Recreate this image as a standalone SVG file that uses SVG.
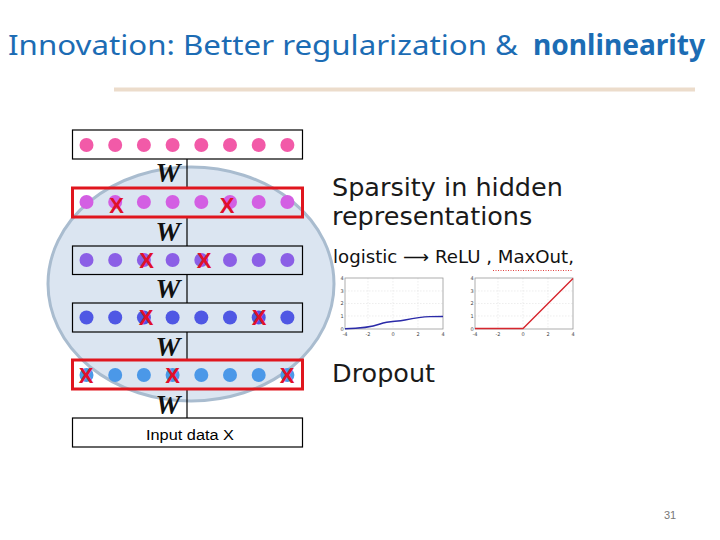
<svg xmlns="http://www.w3.org/2000/svg" width="720" height="540" viewBox="0 0 720 540">
<defs>
<style>
.box{fill:none;stroke:#000;stroke-width:1.2}
.rbox{fill:none;stroke:#e0161e;stroke-width:3}
.link{stroke:#000;stroke-width:1.2}
.w{font-family:"Liberation Serif",serif;font-style:italic;font-weight:bold;font-size:28px;fill:#111;text-anchor:middle}
.x{font-family:"Liberation Sans",sans-serif;font-weight:bold;font-size:22px;fill:#e0102a;text-anchor:middle}
.d1{fill:#f25aa8}.d2{fill:#d35fe3}.d3{fill:#8b5fe6}.d4{fill:#4f57e4}.d5{fill:#4b98e8}
.big{font-family:"DejaVu Sans",sans-serif;font-size:25.5px;fill:#1a1a1a}
.tick{font-family:"DejaVu Sans",sans-serif;font-size:5px;fill:#444;text-anchor:middle}
.grid{stroke:#e2e2e2;stroke-width:0.6;stroke-dasharray:1.5 1.5}
.frame{fill:none;stroke:#999;stroke-width:0.8}
</style>
</defs>
<rect width="720" height="540" fill="#fff"/>
<text x="8" y="55" font-family="'Noto Sans','Open Sans',sans-serif" font-size="28" fill="#1c6cb4" textLength="510" lengthAdjust="spacingAndGlyphs">Innovation: Better regularization &amp;</text>
<text x="533" y="55" font-family="'Noto Sans','Open Sans',sans-serif" font-size="28" font-weight="bold" fill="#1c6cb4" textLength="172" lengthAdjust="spacingAndGlyphs">nonlinearity</text>
<line x1="114" y1="89.5" x2="695" y2="89.5" stroke="#ecdccb" stroke-width="4"/>

<ellipse id="bubble" cx="191" cy="284" rx="143" ry="117" fill="#dbe5f1" stroke="#a9bccf" stroke-width="3"/>

<g id="connectors">
<line class="link" x1="187" y1="159" x2="187" y2="188"/>
<line class="link" x1="187" y1="217" x2="187" y2="246"/>
<line class="link" x1="187" y1="274" x2="187" y2="303"/>
<line class="link" x1="187" y1="332" x2="187" y2="359"/>
<line class="link" x1="187" y1="389" x2="187" y2="418"/>
<text class="w" x="168" y="182">W</text>
<text class="w" x="168" y="241">W</text>
<text class="w" x="168" y="298">W</text>
<text class="w" x="168" y="356">W</text>
<text class="w" x="168" y="414">W</text>
</g>

<g id="layer1">
<rect x="72.5" y="130" width="230" height="29" fill="#fff" stroke="#000" stroke-width="1.2"/>
<g class="d1">
<circle cx="86.5" cy="145" r="7"/><circle cx="115.2" cy="145" r="7"/><circle cx="143.9" cy="145" r="7"/><circle cx="172.6" cy="145" r="7"/><circle cx="201.3" cy="145" r="7"/><circle cx="230" cy="145" r="7"/><circle cx="258.7" cy="145" r="7"/><circle cx="287.4" cy="145" r="7"/>
</g>
</g>

<g id="layer2">
<rect class="rbox" x="72.5" y="188" width="230" height="29"/>
<g class="d2">
<circle cx="86.5" cy="202" r="7"/><circle cx="115.2" cy="202" r="7"/><circle cx="143.9" cy="202" r="7"/><circle cx="172.6" cy="202" r="7"/><circle cx="201.3" cy="202" r="7"/><circle cx="230" cy="202" r="7"/><circle cx="258.7" cy="202" r="7"/><circle cx="287.4" cy="202" r="7"/>
</g>
<text class="x" x="116.5" y="213">X</text>
<text class="x" x="227" y="213">X</text>
</g>

<g id="layer3">
<rect class="box" x="72.5" y="246" width="230" height="28.5"/>
<g class="d3">
<circle cx="86.5" cy="260" r="7"/><circle cx="115.2" cy="260" r="7"/><circle cx="143.9" cy="260" r="7"/><circle cx="172.6" cy="260" r="7"/><circle cx="201.3" cy="260" r="7"/><circle cx="230" cy="260" r="7"/><circle cx="258.7" cy="260" r="7"/><circle cx="287.4" cy="260" r="7"/>
</g>
<text class="x" x="146.5" y="268">X</text>
<text class="x" x="204" y="268">X</text>
</g>

<g id="layer4">
<rect class="box" x="72.5" y="303" width="230" height="29"/>
<g class="d4">
<circle cx="86.5" cy="317.5" r="7"/><circle cx="115.2" cy="317.5" r="7"/><circle cx="143.9" cy="317.5" r="7"/><circle cx="172.6" cy="317.5" r="7"/><circle cx="201.3" cy="317.5" r="7"/><circle cx="230" cy="317.5" r="7"/><circle cx="258.7" cy="317.5" r="7"/><circle cx="287.4" cy="317.5" r="7"/>
</g>
<text class="x" x="146" y="325">X</text>
<text class="x" x="259" y="325">X</text>
</g>

<g id="layer5">
<rect class="rbox" x="72.5" y="360" width="230" height="29"/>
<g class="d5">
<circle cx="86.5" cy="375" r="7"/><circle cx="115.2" cy="375" r="7"/><circle cx="143.9" cy="375" r="7"/><circle cx="172.6" cy="375" r="7"/><circle cx="201.3" cy="375" r="7"/><circle cx="230" cy="375" r="7"/><circle cx="258.7" cy="375" r="7"/><circle cx="287.4" cy="375" r="7"/>
</g>
<text class="x" x="86" y="383">X</text>
<text class="x" x="172.6" y="383">X</text>
<text class="x" x="287" y="383">X</text>
</g>

<g id="input">
<rect x="72.5" y="418" width="230" height="29" fill="#fff" stroke="#000" stroke-width="1.2"/>
<text x="190" y="440" font-family="'Liberation Sans',sans-serif" font-size="14" fill="#000" text-anchor="middle" textLength="88" lengthAdjust="spacingAndGlyphs">Input data X</text>
</g>

<g id="text-right">
<text class="big" x="332" y="196">Sparsity in hidden</text>
<text class="big" x="332" y="225">representations</text>
<text x="333" y="263" font-family="'DejaVu Sans',sans-serif" font-size="17.5" fill="#111" textLength="241" lengthAdjust="spacingAndGlyphs">logistic ⟶ ReLU , MaxOut,</text>
<line x1="493" y1="270.5" x2="573" y2="270.5" stroke="#e04040" stroke-width="1" stroke-dasharray="1 1.5"/>
<text class="big" x="332" y="382">Dropout</text>
</g>

<g id="plot-logistic">
<line class="grid" x1="368" y1="278" x2="368" y2="329"/><line class="grid" x1="393" y1="278" x2="393" y2="329"/><line class="grid" x1="418" y1="278" x2="418" y2="329"/>
<line class="grid" x1="345" y1="291" x2="443" y2="291"/><line class="grid" x1="345" y1="303.5" x2="443" y2="303.5"/><line class="grid" x1="345" y1="316" x2="443" y2="316"/>
<rect class="frame" x="345" y="278" width="98" height="51"/>
<path d="M345,328.8 C360,328.5 370,327.5 380,324 C390,320.5 396,322 405,320 C415,318 420,317 430,316.6 L443,316.5" fill="none" stroke="#2a2aa8" stroke-width="1.4"/>
<text class="tick" x="342" y="280">4</text><text class="tick" x="342" y="293">3</text><text class="tick" x="342" y="305">2</text><text class="tick" x="342" y="318">1</text><text class="tick" x="342" y="331">0</text>
<text class="tick" x="345" y="335.5">-4</text><text class="tick" x="368" y="335.5">-2</text><text class="tick" x="393" y="335.5">0</text><text class="tick" x="418" y="335.5">2</text><text class="tick" x="443" y="335.5">4</text>
</g>

<g id="plot-relu">
<line class="grid" x1="498" y1="278" x2="498" y2="329"/><line class="grid" x1="523" y1="278" x2="523" y2="329"/><line class="grid" x1="548" y1="278" x2="548" y2="329"/>
<line class="grid" x1="475" y1="291" x2="573" y2="291"/><line class="grid" x1="475" y1="303.5" x2="573" y2="303.5"/><line class="grid" x1="475" y1="316" x2="573" y2="316"/>
<rect class="frame" x="475" y="278" width="98" height="51"/>
<polyline points="475,328.5 523,328.5 573,278.5" fill="none" stroke="#d6262e" stroke-width="1.4"/>
<text class="tick" x="472" y="280">4</text><text class="tick" x="472" y="293">3</text><text class="tick" x="472" y="305">2</text><text class="tick" x="472" y="318">1</text><text class="tick" x="472" y="331">0</text>
<text class="tick" x="475" y="335.5">-4</text><text class="tick" x="498" y="335.5">-2</text><text class="tick" x="523" y="335.5">0</text><text class="tick" x="548" y="335.5">2</text><text class="tick" x="573" y="335.5">4</text>
</g>

<text x="670" y="519" font-family="'Liberation Sans',sans-serif" font-size="11" fill="#777" text-anchor="middle">31</text>
</svg>
